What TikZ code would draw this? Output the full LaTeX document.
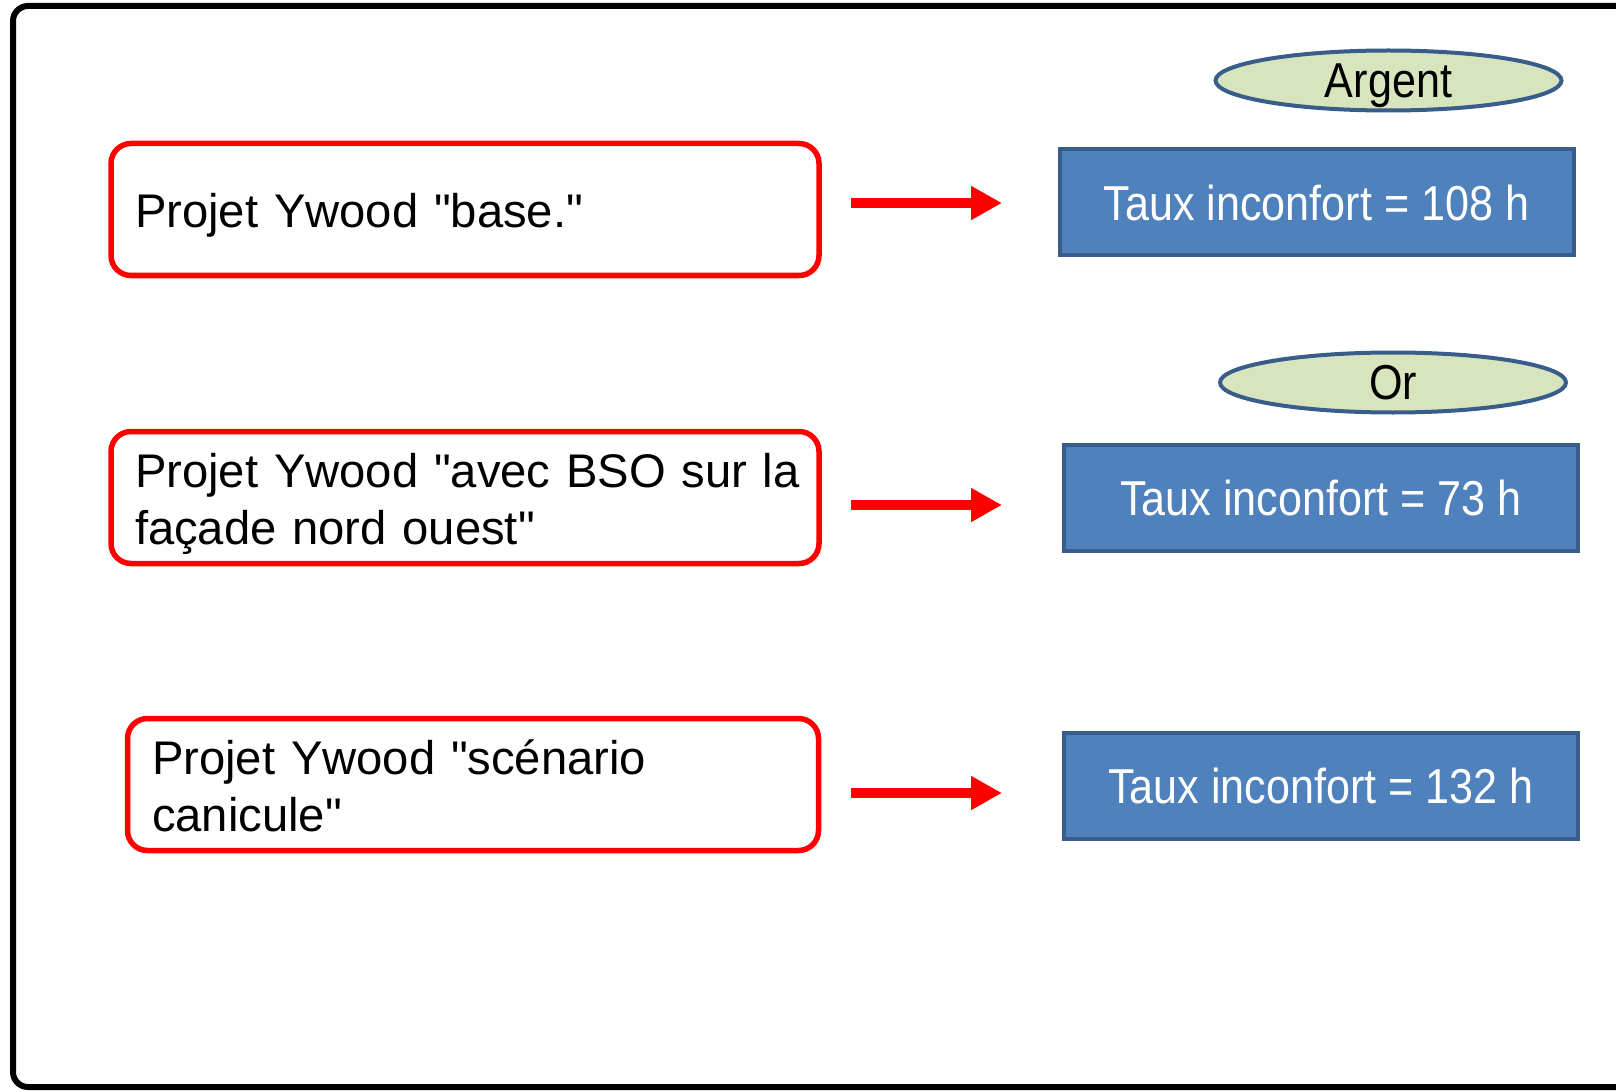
\documentclass[tikz,border=0pt]{standalone}
\usepackage{fontspec}
\setmainfont[Ligatures=TeXOff]{Liberation Sans}
\newfontfamily\narrowfont[FakeStretch=0.88]{Liberation Sans}
\usetikzlibrary{arrows.meta, shapes.geometric, positioning}
\definecolor{boxBlue}{HTML}{4F81BD}
\definecolor{edgeBlue}{HTML}{385D8A}
\definecolor{medalGreen}{HTML}{D7E4BD}
\tikzstyle{projet} = [rectangle, draw=red, line width=2.75pt, rounded corners=10pt,
   minimum height=66pt, inner xsep=12pt, align=left, text height=18pt,
   font=\fontsize{23.6}{28.5}\selectfont]
\tikzstyle{taux} = [rectangle, draw=edgeBlue, fill=boxBlue, line width=2pt,
   minimum width=257pt, minimum height=53pt, text=white,
   font=\narrowfont\fontsize{24.5}{29}\selectfont]
\tikzstyle{medal} = [ellipse, draw=edgeBlue, fill=medalGreen, line width=2pt,
   inner sep=0pt, minimum width=173pt, minimum height=30pt,
   text height=17pt, text depth=0pt,
   font=\narrowfont\fontsize{24.5}{29}\selectfont]
\tikzstyle{redArrow} = [red, line width=5pt, -{Triangle[length=15.5pt, width=16pt]}]

\begin{document}
\begin{tikzpicture}[x=0.5pt, y=-0.5pt]
  \useasboundingbox (0,0) rectangle (1616,1091);
  \draw[line width=3pt, rounded corners=7.5pt] (13,6) rectangle (1660,1087);
  % scenarios
  \node[projet, text width=330pt, text depth=0pt] (base) at (465,209.5)
    {\mbox{Projet Ywood "base."}};
  \node[projet, text width=330pt, text depth=28.5pt] (bso) at (465,497.5)
    {\mbox{Projet Ywood "avec BSO sur la}\\\mbox{fa\c{c}ade nord ouest"}};
  \node[projet, text width=321pt, inner xsep=12.25pt, text depth=28.5pt] (canicule) at (473,784.5)
    {\mbox{Projet Ywood "sc\'enario}\\\mbox{canicule"}};
  % results
  \node[taux] (taux1) at (1316.5,202.5) {Taux inconfort = 108 h};
  \node[taux] (taux2) at (1321,497.5) {Taux inconfort = 73 h};
  \node[taux] (taux3) at (1321,785.5) {Taux inconfort = 132 h};
  \node[medal, above=17.5pt of taux1, xshift=36pt] (argent) {Argent};
  \node[medal, above=14pt of taux2, xshift=36pt] (or) {Or};
  % arrows
  \coordinate (s1) at (851,203);  \coordinate (e1) at (1002,203);
  \coordinate (s2) at (851,505);  \coordinate (e2) at (1002,505);
  \coordinate (s3) at (851,793);  \coordinate (e3) at (1002,793);
  \draw[redArrow] (s1) -- (e1);
  \draw[redArrow] (s2) -- (e2);
  \draw[redArrow] (s3) -- (e3);
\end{tikzpicture}
\end{document}
